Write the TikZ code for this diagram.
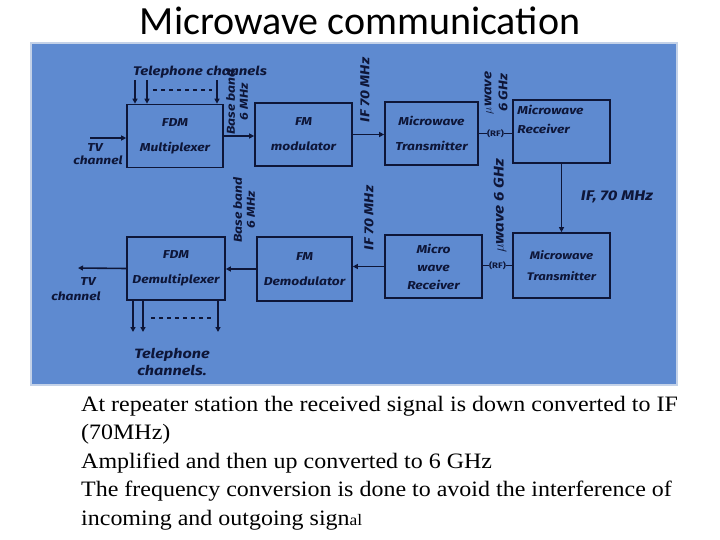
\documentclass[tikz,border=0pt]{standalone}
\usepackage{fontspec}
\setmainfont{Liberation Serif}
\newfontfamily\bodyfont[FakeStretch=1.09]{Liberation Serif}
\newfontfamily\titlefont{Carlito}
\newfontfamily\hand[FakeStretch=1.2]{Fira Sans}
\usetikzlibrary{arrows.meta}
\definecolor{panelblue}{RGB}{94,138,208}
\definecolor{panelborder}{RGB}{196,210,232}
\definecolor{ink}{RGB}{14,22,56}
\newcommand{\hf}[2]{\hand\bfseries\itshape\fontsize{#1}{#2}\selectfont}
\tikzset{
  blk/.style={draw=ink, line width=1.7pt, inner sep=0pt, align=center, text=ink,
    font=\hf{11.5}{25}},
  arr/.style={draw=ink, line width=1.6pt, -{Triangle[length=5pt,width=5pt]}},
  wire/.style={draw=ink, line width=1.6pt},
  dots/.style={draw=ink, line width=1.6pt, dash pattern=on 4pt off 4pt},
  lbl/.style={text=ink, inner sep=0pt, align=center, font=\hf{11.5}{13}},
  rf/.style={midway, fill=panelblue, inner sep=0.5pt, text=ink, font=\hand\bfseries\fontsize{8}{8}\selectfont},
  body/.style={anchor=base west, inner sep=0pt, font=\bodyfont\fontsize{22}{22}\selectfont}
}
\begin{document}
\begin{tikzpicture}[x=1pt,y=-1pt]
\useasboundingbox (0,0) rectangle (720,540);
\fill[white] (0,0) rectangle (720,540);
% title
\node[inner sep=0pt, font=\titlefont\fontsize{40}{40}\selectfont] (title) at (360,21) {Microwave communication};
% panel
\draw[draw=panelborder, line width=2pt, fill=panelblue] (31,43) rectangle (677,385);
% blocks
\node[blk, minimum width=96pt, minimum height=63pt] (fdm) at (175,136) {FDM\\Multiplexer};
\node[blk, minimum width=97pt, minimum height=63pt] (fmm) at (303.5,134.5) {FM\\modulator};
\node[blk, minimum width=93pt, minimum height=63pt] (mwt) at (431.5,133.5) {Microwave\\Transmitter};
\node[blk, minimum width=97pt, minimum height=63pt] (mwr) at (561.5,131.5) {};
\node[lbl, anchor=north west, align=left, font=\hf{11.5}{19}] (mwrtxt) at ([xshift=5pt,yshift=-6pt]mwr.north west) {Microwave\\Receiver};
\node[blk, minimum width=98pt, minimum height=63pt] (fdmd) at (176,268.5) {FDM\\Demultiplexer};
\node[blk, minimum width=95pt, minimum height=64pt] (fmd) at (304.5,269) {FM\\Demodulator};
\node[blk, minimum width=97pt, minimum height=63pt, font=\hf{11.5}{18}] (mwr2) at (433.5,266.5) {Micro\\wave\\Receiver};
\node[blk, minimum width=97pt, minimum height=65pt, font=\hf{11}{21}] (mwt2) at (561.5,265.5) {Microwave\\Transmitter};
% input side
\coordinate (tvin) at (90,138);
\draw[arr] (tvin) -- (tvin -| fdm.west);
\node[lbl] (tvinl) at (95,148) {TV};
\node[lbl] (tvinl2) at (98,160) {channel};
\node[lbl, font=\hf{12.5}{14}] (telin) at (200,72) {Telephone channels};
\coordinate (ti1) at (135,80);
\coordinate (ti2) at (147,80);
\coordinate (ti3) at (217,80);
\draw[arr] (ti1) -- (ti1 |- fdm.north);
\draw[arr] (ti2) -- (ti2 |- fdm.north);
\draw[arr] (ti3) -- (ti3 |- fdm.north);
\coordinate (di1) at (153,90);
\coordinate (di2) at (212,90);
\draw[dots] (di1) -- (di2);
% top chain
\draw[arr] (fdm.east) -- (fdm.east -| fmm.west);
\node[lbl, rotate=90] (bb1) at (237,102) {Base band\\6 MHz};
\draw[arr] (fmm.east) -- (fmm.east -| mwt.west);
\node[lbl, rotate=90, font=\hf{13}{15}] (if1) at (365,90) {IF 70 MHz};
\draw[wire] (mwt.east) -- (mwt.east -| mwr.west) node[rf] (rf1) {(RF)};
\node[lbl, rotate=90, font=\hf{12.5}{16}] (mw1) at (496,93) {$\mu$wave\\6 GHz};
% repeater link
\draw[arr] (mwr.south) -- (mwr.south |- mwt2.north);
\node[lbl, font=\hf{14}{16}] (if2) at (617,197) {IF, 70 MHz};
% bottom chain
\draw[wire] (mwt2.west) -- (mwt2.west -| mwr2.east) node[rf] (rf2) {(RF)};
\node[lbl, rotate=90, font=\hf{14}{16}] (mw2) at (500,206) {$\mu$wave 6 GHz};
\draw[arr] (mwr2.west) -- (mwr2.west -| fmd.east);
\node[lbl, rotate=90, font=\hf{13}{15}] (if3) at (369,218) {IF 70 MHz};
\draw[arr] (fmd.west) -- (fmd.west -| fdmd.east);
\node[lbl, rotate=90] (bb2) at (244,210) {Base band\\6 MHz};
% output side
\coordinate (tvout) at (78,268);
\draw[arr] (fdmd.west) -- (tvout);
\node[lbl] (tvoutl) at (88,282) {TV};
\node[lbl] (tvoutl2) at (76,296) {channel};
\coordinate (to1) at (133,332);
\coordinate (to2) at (143,332);
\coordinate (to3) at (218,332);
\draw[arr] (to1 |- fdmd.south) -- (to1);
\draw[arr] (to2 |- fdmd.south) -- (to2);
\draw[arr] (to3 |- fdmd.south) -- (to3);
\coordinate (do1) at (151,318);
\coordinate (do2) at (214,318);
\draw[dots] (do1) -- (do2);
\node[lbl, font=\hf{13.5}{17}] (telout) at (172,362) {Telephone\\channels.};
% body text
\node[body] (l1) at (81,411) {At repeater station the received signal is down converted to IF};
\node[body] (l2) at (81,439.5) {(70MHz)};
\node[body] (l3) at (81,468) {Amplified and then up converted to 6 GHz};
\node[body] (l4) at (81,496.5) {The frequency conversion is done to avoid the interference of};
\node[body] (l5) at (81,525) {incoming and outgoing sign{\fontsize{16}{16}\selectfont al}};
\end{tikzpicture}
\end{document}
